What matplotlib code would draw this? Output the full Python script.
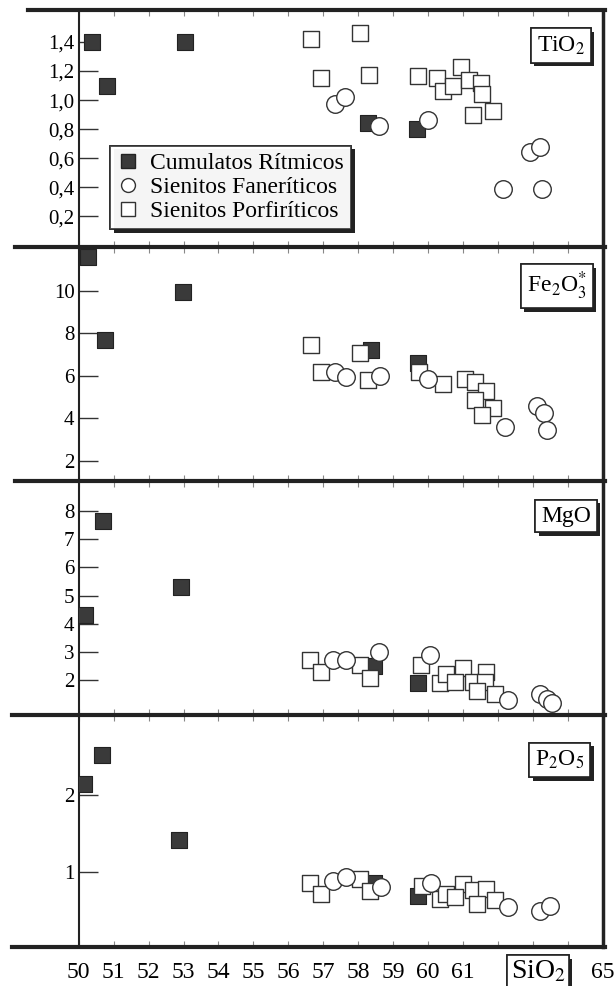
import matplotlib.pyplot as plt
import matplotlib.patheffects as pe
from matplotlib.lines import Line2D
from matplotlib.transforms import blended_transform_factory

plt.rcParams['font.family'] = ['Liberation Serif', 'DejaVu Serif']
plt.rcParams['mathtext.fontset'] = 'stix'

# --- TiO2 ---
cum_x_ti = [50.37, 50.8, 53.03, 58.29, 59.68]
cum_y_ti = [1.40, 1.10, 1.40, 0.84, 0.80]
por_x_ti = [56.65, 58.04, 56.93, 58.31, 59.71, 60.27, 60.44, 60.72, 60.95, 61.18, 61.52, 61.55, 61.29, 61.86]
por_y_ti = [1.42, 1.46, 1.15, 1.17, 1.165, 1.15, 1.06, 1.10, 1.23, 1.135, 1.12, 1.045, 0.90, 0.925]
fan_x_ti = [57.33, 57.61, 58.6, 59.99, 62.93, 63.21, 62.16, 63.27]
fan_y_ti = [0.975, 1.02, 0.825, 0.86, 0.64, 0.675, 0.39, 0.39]

# --- Fe2O3* ---
cum_x_fe = [50.26, 50.74, 52.98, 58.38, 59.71]
cum_y_fe = [11.6, 7.66, 9.95, 7.2, 6.6]
por_x_fe = [56.65, 56.93, 58.04, 58.29, 59.74, 60.44, 61.06, 61.35, 61.66, 61.35, 61.86, 61.55]
por_y_fe = [7.45, 6.16, 7.06, 5.78, 6.16, 5.63, 5.84, 5.73, 5.27, 4.88, 4.48, 4.17]
fan_x_fe = [57.33, 57.64, 58.63, 60.01, 62.2, 63.13, 63.32, 63.4]
fan_y_fe = [6.2, 5.92, 5.97, 5.84, 3.58, 4.56, 4.25, 3.47]

# --- MgO ---
cum_x_mg = [50.69, 50.17, 52.92, 58.46, 59.71]
cum_y_mg = [7.64, 4.31, 5.32, 2.5, 1.9]
por_x_mg = [56.62, 56.93, 58.04, 58.35, 59.79, 60.33, 60.5, 61.0, 60.78, 61.29, 61.66, 61.63, 61.4, 61.93]
por_y_mg = [2.7, 2.29, 2.55, 2.08, 2.52, 1.9, 2.23, 2.43, 1.95, 1.93, 2.29, 1.93, 1.6, 1.51]
fan_x_mg = [57.27, 57.64, 58.61, 60.05, 62.3, 63.21, 63.4, 63.55]
fan_y_mg = [2.7, 2.7, 3.0, 2.88, 1.3, 1.51, 1.33, 1.18]

# --- P2O5 ---
cum_x_p = [50.66, 50.15, 52.88, 58.46, 59.71]
cum_y_p = [2.52, 2.14, 1.42, 0.87, 0.70]
por_x_p = [56.62, 56.93, 58.04, 58.35, 59.83, 60.33, 60.5, 61.0, 60.78, 61.29, 61.66, 61.4, 61.93]
por_y_p = [0.87, 0.72, 0.91, 0.76, 0.83, 0.66, 0.72, 0.85, 0.68, 0.77, 0.79, 0.59, 0.64]
fan_x_p = [57.27, 57.64, 58.65, 60.08, 62.3, 63.21, 63.49]
fan_y_p = [0.89, 0.94, 0.81, 0.86, 0.55, 0.51, 0.57]

x_ticks = list(range(50, 66))
x_labels = [str(v) if v <= 61 or v == 65 else '' for v in x_ticks]

panels = [
    dict(name='TiO$_2$', cum=(cum_x_ti, cum_y_ti), por=(por_x_ti, por_y_ti), fan=(fan_x_ti, fan_y_ti),
         ylim=(-0.01, 1.62), yt=[0.2, 0.4, 0.6, 0.8, 1.0, 1.2, 1.4],
         ytl=['0,2', '0,4', '0,6', '0,8', '1,0', '1,2', '1,4'], box=(0.92, 0.85), bounds=(0.7495, 0.9899)),
    dict(name='Fe$_2$O$_3^{*}$', cum=(cum_x_fe, cum_y_fe), por=(por_x_fe, por_y_fe), fan=(fan_x_fe, fan_y_fe),
         ylim=(1.05, 12.06), yt=[2, 4, 6, 8, 10], ytl=['2', '4', '6', '8', '10'],
         box=(0.912, 0.833), bounds=(0.5122, 0.7495)),
    dict(name='MgO', cum=(cum_x_mg, cum_y_mg), por=(por_x_mg, por_y_mg), fan=(fan_x_mg, fan_y_mg),
         ylim=(0.76, 9.07), yt=[2, 3, 4, 5, 6, 7, 8], ytl=['2', '3', '4', '5', '6', '7', '8'],
         box=(0.93, 0.85), bounds=(0.2748, 0.5122)),
    dict(name='P$_2$O$_5$', cum=(cum_x_p, cum_y_p), por=(por_x_p, por_y_p), fan=(fan_x_p, fan_y_p),
         ylim=(0.04, 3.03), yt=[1, 2], ytl=['1', '2'], box=(0.918, 0.806), bounds=(0.0396, 0.2748)),
]

fig = plt.figure(figsize=(6.15, 9.86), dpi=100)
L, W = 0.128, 0.852
shadow = [pe.withSimplePatchShadow(offset=(2.5, -2.5), shadow_rgbFace='#222222', alpha=1), pe.Normal()]

for i, p in enumerate(panels):
    b, t = p['bounds']
    ax = fig.add_axes([L, b, W, t - b])
    ax.set_xlim(50, 65)
    ax.set_ylim(*p['ylim'])

    ax.scatter(*p['cum'], marker='s', s=145, c='#3a3a3a', edgecolors='#222222', linewidths=0.8, zorder=3)
    ax.scatter(*p['por'], marker='s', s=145, facecolors='white', edgecolors='#333333', linewidths=1.0, zorder=4)
    ax.scatter(*p['fan'], marker='o', s=160, facecolors='white', edgecolors='#333333', linewidths=1.0, zorder=5)

    for s in ['top', 'bottom']:
        ax.spines[s].set_visible(False)
    ax.spines['left'].set_linewidth(1.5)
    ax.spines['left'].set_color('#222222')
    ax.spines['right'].set_linewidth(2.5)
    ax.spines['right'].set_color('#222222')

    ax.set_yticks(p['yt'])
    ax.set_yticklabels(p['ytl'])
    ax.tick_params(axis='y', direction='in', length=14, width=1.0, color='#333333', labelsize=15, pad=3)

    ax.set_xticks(x_ticks)
    ax.set_xticks([60], minor=True)
    ax.tick_params(axis='x', which='major', direction='in', top=True, bottom=True,
                   length=4, width=0.8, color='#888888')
    ax.tick_params(axis='x', which='minor', direction='in', top=True, bottom=True,
                   length=11, width=0.9, color='#555555')
    if i == len(panels) - 1:
        ax.set_xticklabels(x_labels)
        ax.tick_params(axis='x', which='major', labelsize=17, pad=11)
        tr = blended_transform_factory(ax.transData, ax.transAxes)
        sl = ax.text(63.15, -0.105, 'SiO$_2$', transform=tr, ha='center', va='center', fontsize=20,
                     bbox=dict(boxstyle='square,pad=0.12', fc='white', ec='#222222', lw=1.2))
        sl.get_bbox_patch().set_path_effects(shadow)
    else:
        ax.tick_params(axis='x', labelbottom=False)

    lab = ax.text(p['box'][0], p['box'][1], p['name'], transform=ax.transAxes, ha='center', va='center',
                  fontsize=17, bbox=dict(boxstyle='square,pad=0.25', fc='white', ec='#222222', lw=1.2))
    lab.get_bbox_patch().set_path_effects(shadow)

    if i == 0:
        handles = [
            Line2D([], [], marker='s', ls='', ms=10, mfc='#3a3a3a', mec='#222222'),
            Line2D([], [], marker='o', ls='', ms=10, mfc='white', mec='#333333'),
            Line2D([], [], marker='s', ls='', ms=10, mfc='white', mec='#333333'),
        ]
        leg = ax.legend(handles, ['Cumulatos Rítmicos', 'Sienitos Faneríticos', 'Sienitos Porfiríticos'],
                        loc='lower left', bbox_to_anchor=(0.06, 0.075), fontsize=17, frameon=True,
                        fancybox=False, edgecolor='#222222', handlelength=0.9, handletextpad=0.5,
                        labelspacing=0.1, borderpad=0.3, borderaxespad=0)
        leg.get_frame().set_linewidth(1.3)
        leg.get_frame().set_path_effects(shadow)

# thick horizontal frame lines
line_y = [10, 247, 481, 715, 947]
line_x0 = [28, 15, 15, 12, 12]
for yy, xx in zip(line_y, line_x0):
    fy = 1 - yy / 986
    fig.add_artist(Line2D([xx / 615, 605 / 615], [fy, fy], color='#222222', lw=3.0))

fig.savefig('out.png', dpi=100)
